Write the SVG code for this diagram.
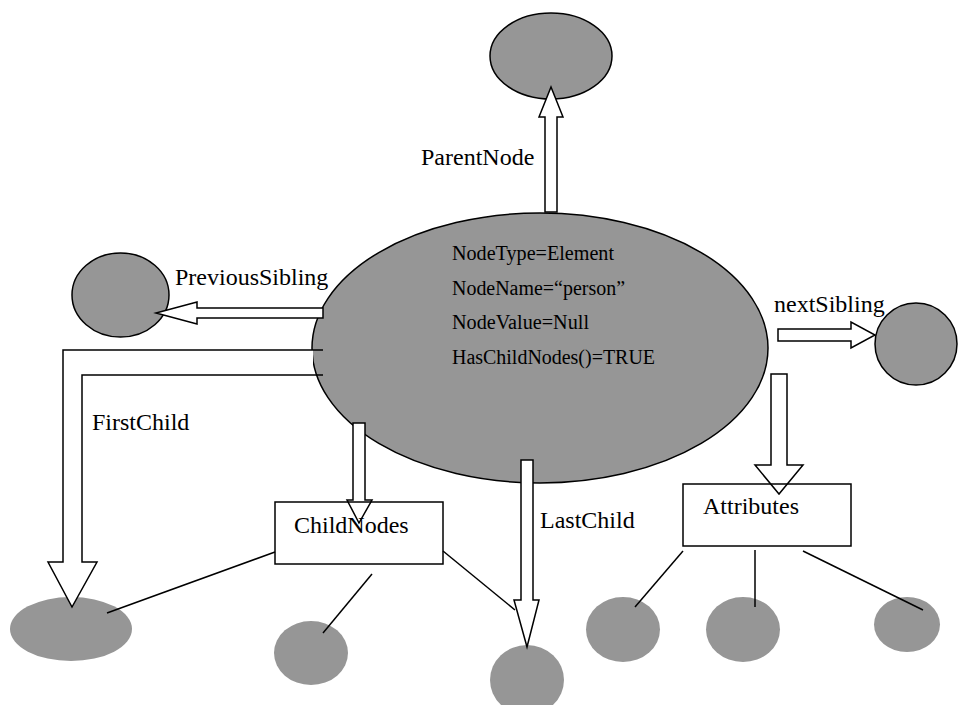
<svg xmlns="http://www.w3.org/2000/svg" width="961" height="705" viewBox="0 0 961 705">
<style>
.node{fill:#969696;stroke:#000;stroke-width:1.5}
.leaf{fill:#969696;stroke:none}
.arrow{fill:#fff;stroke:#000;stroke-width:1.5;stroke-linejoin:miter}
.line{stroke:#000;stroke-width:1.5;fill:none}
.box{fill:none;stroke:#000;stroke-width:1.5}
text{font-family:"Liberation Serif","Times New Roman",serif;fill:#000}
.lbl{font-size:24px}
.inner{font-size:20px}
</style>
<rect width="961" height="705" fill="#fff"/>
<g id="parent"><ellipse class="node" cx="551" cy="56" rx="61" ry="43"/></g>
<g id="previous"><ellipse class="node" cx="120.5" cy="295" rx="48.5" ry="42"/></g>
<g id="next"><ellipse class="node" cx="916" cy="344" rx="41" ry="41"/></g>
<g id="first-child"><ellipse class="leaf" cx="71" cy="629" rx="61" ry="32"/></g>
<g id="child2"><ellipse class="leaf" cx="311" cy="653" rx="37" ry="32"/></g>
<g id="last-child"><ellipse class="leaf" cx="527" cy="680" rx="37" ry="35"/></g>
<g id="attr1"><ellipse class="leaf" cx="623" cy="629.5" rx="37" ry="32.5"/></g>
<g id="attr2"><ellipse class="leaf" cx="743" cy="629.5" rx="37" ry="32.5"/></g>
<g id="attr3"><ellipse class="leaf" cx="907" cy="624.5" rx="33" ry="27.5"/></g>
<g id="main">
<ellipse class="node" cx="540" cy="348" rx="228" ry="135"/>
<text class="inner" x="452" y="260" textLength="162" lengthAdjust="spacingAndGlyphs">NodeType=Element</text>
<text class="inner" x="452" y="295" textLength="173" lengthAdjust="spacingAndGlyphs">NodeName=“person”</text>
<text class="inner" x="452" y="329" textLength="137" lengthAdjust="spacingAndGlyphs">NodeValue=Null</text>
<text class="inner" x="452" y="364" textLength="203" lengthAdjust="spacingAndGlyphs">HasChildNodes()=TRUE</text>
</g>
<g id="connectors">
<polygon class="arrow" points="545,212 545,117 539,117 551,87 563,117 557,117 557,212"/>
<polygon class="arrow" points="323,308 197,308 197,302 156,313 197,324 197,318 323,318"/>
<polygon fill="#fff" stroke="none" points="313,350 63,350 63,562 48,562 72,607 97,562 82,562 82,375 313,375"/>
<path class="line" d="M323,350 H63 V562 H48 L72,607 L97,562 H82 V375 H323"/>
<polygon class="arrow" points="353,423 353,500 347,500 359,523 372,500 365,500 365,423"/>
<polygon class="arrow" points="521,460 521,600 514,600 527,647 539,600 533,600 533,460"/>
<polygon class="arrow" points="771,374 771,465 755,465 779,494 803,465 787,465 787,374"/>
<polygon class="arrow" points="778,329 851,329 851,322 875,335 851,348 851,341 778,341"/>
<line class="line" x1="275" y1="552" x2="107" y2="613"/>
<line class="line" x1="443" y1="551" x2="515" y2="610"/>
<line class="line" x1="372" y1="574" x2="323" y2="633"/>
<line class="line" x1="683" y1="551" x2="635" y2="607"/>
<line class="line" x1="755" y1="550" x2="755" y2="607"/>
<line class="line" x1="803" y1="551" x2="923" y2="610"/>
<text class="lbl" x="421" y="165">ParentNode</text>
<text class="lbl" x="175" y="285">PreviousSibling</text>
<text class="lbl" x="774" y="312">nextSibling</text>
<text class="lbl" x="92" y="430">FirstChild</text>
<text class="lbl" x="540" y="528">LastChild</text>
</g>
<g id="childnodes">
<rect class="box" x="275" y="502" width="168" height="62"/>
<text class="lbl" x="294" y="533">ChildNodes</text>
</g>
<g id="attributes">
<rect class="box" x="683" y="484" width="168" height="62"/>
<text class="lbl" x="703" y="514">Attributes</text>
</g>
</svg>
